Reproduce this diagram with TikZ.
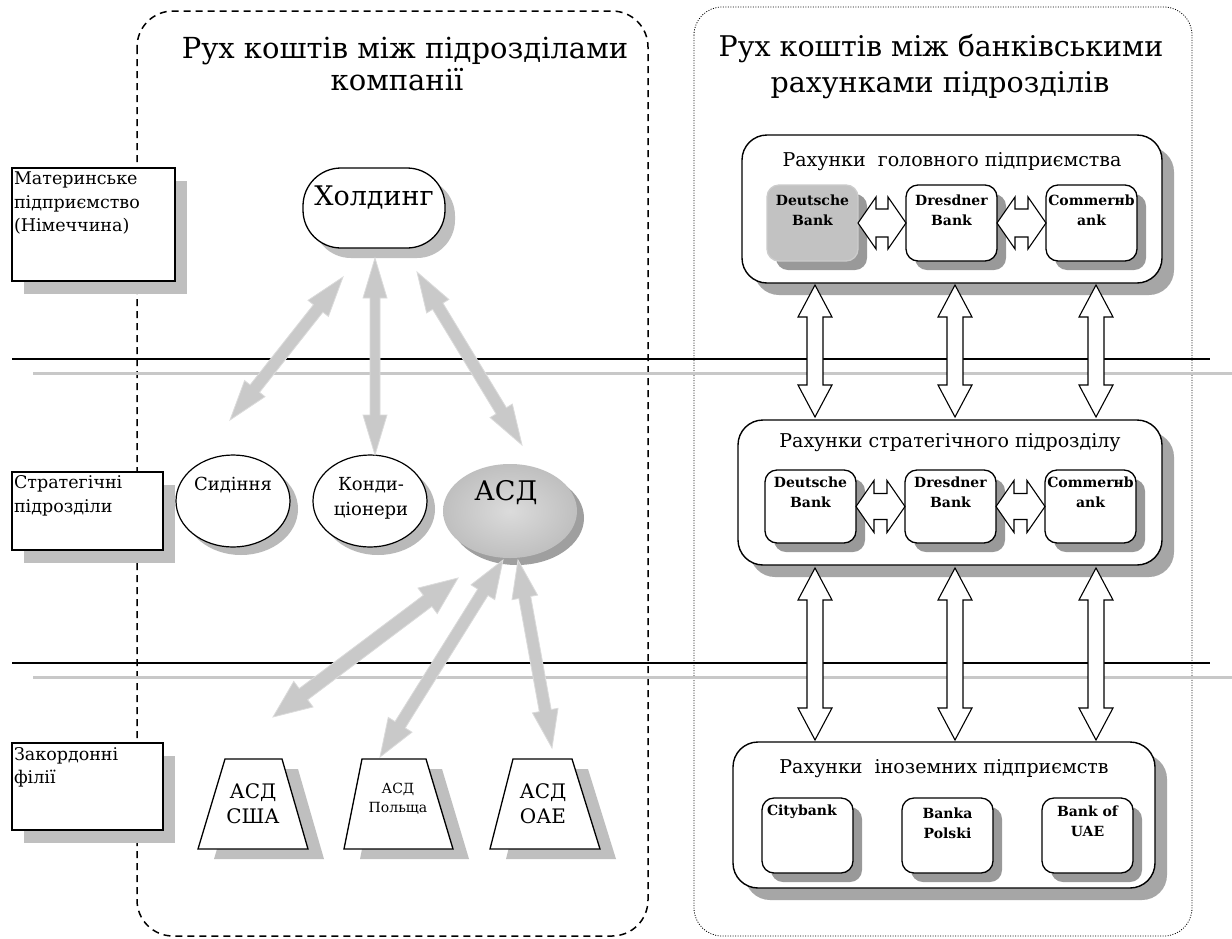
\documentclass[tikz,border=0pt]{standalone}
\usepackage{fontspec}
\setmainfont{DejaVu Serif}
\usetikzlibrary{arrows.meta,shapes.geometric,calc,shadows}
\newcommand\myfs[2]{\fontsize{#1}{#2}\selectfont}
% #1 style, #2 from, #3 to, #4 shaft half width, #5 head half width, #6 head length
\newcommand\fatarrow[6]{%
  \coordinate (fa1) at ($(#2)!#6!(#3)$);
  \coordinate (fa2) at ($(#3)!#6!(#2)$);
  \filldraw[#1] (#2) -- ($(fa1)!#5!90:(#3)$) -- ($(fa1)!#4!90:(#3)$)
     -- ($(fa2)!#4!-90:(#2)$) -- ($(fa2)!#5!-90:(#2)$) -- (#3)
     -- ($(fa2)!#5!90:(#2)$) -- ($(fa2)!#4!90:(#2)$)
     -- ($(fa1)!#4!-90:(#3)$) -- ($(fa1)!#5!-90:(#3)$) -- cycle;}
\begin{document}
\begin{tikzpicture}[x=1pt,y=-1pt,
  every node/.style={inner sep=0pt, outer sep=0pt},
  lbl/.style={draw, line width=1.3pt, fill=white, anchor=north west,
    drop shadow={shadow xshift=12pt, shadow yshift=-13pt, fill=gray!50, opacity=1}},
  lbltxt/.style={anchor=north west, align=left, font=\myfs{17.5}{23.5}},
  unit/.style={draw, ellipse, line width=1.2pt, fill=white, minimum width=114pt, minimum height=92pt,
    drop shadow={shadow xshift=8pt, shadow yshift=-8pt, fill=gray!55, opacity=1}},
  big/.style={draw, line width=1.4pt, rounded corners=25pt, fill=white, anchor=north west,
    drop shadow={shadow xshift=12pt, shadow yshift=-12pt, fill=gray!70, opacity=1}},
  bigtxt/.style={anchor=base, font=\myfs{19}{23}},
  bank/.style={draw, line width=1.3pt, rounded corners=12pt, fill=white, anchor=north west,
    minimum width=91pt, minimum height=76pt,
    drop shadow={shadow xshift=9pt, shadow yshift=-9pt, fill=gray!80, opacity=1}},
  banktxt/.style={anchor=north, align=center, font=\bfseries\myfs{14}{20}},
  garr/.style={fill=gray!42, draw=gray!28, line width=0.8pt, line join=miter},
  warr/.style={fill=white, draw=black, line width=1.1pt, line join=miter},
  trap/.style={draw, line width=1.3pt, fill=white, line join=miter},
  trapsh/.style={fill=gray!50},
  ttl/.style={anchor=base, font=\myfs{29}{34}},
  ttr/.style={anchor=base, font=\myfs{28.5}{34}},
  utxt/.style={anchor=base, font=\myfs{18}{24}}
]
\fill[white] (0,0) rectangle (1232,938);
\useasboundingbox (0,0) rectangle (1232,938);

% group frames
\draw[line width=1.5pt, dash pattern=on 7pt off 5pt, rounded corners=36pt] (137,11) rectangle (648,936);
\draw[line width=0.8pt, dash pattern=on 1pt off 1.5pt, rounded corners=28pt] (694,7) rectangle (1192,936);

% titles
\node[ttl] (t1a) at (405,58) {Рух коштів між підрозділами};
\node[ttl] (t1b) at (397,90) {компанії};
\node[ttr] (t2a) at (941,56) {Рух коштів між банківськими};
\node[ttr] (t2b) at (940,92) {рахунками підрозділів};

% level separators
\draw[line width=2pt] (12,359) -- (1210,359);
\draw[gray!43, line width=3pt] (33,373) -- (1232,373);
\draw[line width=2pt] (12,663) -- (1210,663);
\draw[gray!43, line width=3pt] (33,677) -- (1232,677);

% level labels
\node[lbl, minimum width=163pt, minimum height=113pt] (l1) at (12,168) {};
\node[lbltxt] (l1t) at (14,172) {Материнське\\підприємство\\(Німеччина)};
\node[lbl, minimum width=151pt, minimum height=78pt] (l2) at (12,472) {};
\node[lbltxt] (l2t) at (14,476) {Стратегічні\\підрозділи};
\node[lbl, minimum width=151pt, minimum height=87pt] (l3) at (12,743) {};
\node[lbltxt] (l3t) at (14,747) {Закордонні\\філії};

% holding
\node[draw, line width=1.3pt, fill=white, rounded corners=38pt, minimum width=142pt, minimum height=80pt,
  drop shadow={shadow xshift=10pt, shadow yshift=-10pt, fill=gray!50, opacity=1}] (hold) at (374,208) {};
\node[anchor=base, font=\myfs{27}{32}] (holdt) at (374,205) {Холдинг};

% strategic units
\node[unit] (sid) at (233,501) {};
\node[utxt] (sidt) at (233,490) {Сидіння};
\node[unit] (kon) at (370,501) {};
\node[utxt] (kont1) at (371,490) {Конди-};
\node[utxt] (kont2) at (371,515) {ціонери};
\node[ellipse, minimum width=134pt, minimum height=94pt, inner color=gray!28, outer color=gray!50, shade,
  drop shadow={shadow xshift=7pt, shadow yshift=-7pt, fill=gray!75, opacity=1}] (asd) at (510,511) {};
\node[anchor=base, font=\myfs{27}{32}] (asdt) at (506,500) {АСД};

% foreign branches (trapezoids)
\fill[trapsh, shift={(16,10)}] (225,759) -- (282,759) -- (308,849) -- (198,849) -- cycle;
\draw[trap] (225,759) -- (282,759) -- (308,849) -- (198,849) -- cycle;
\fill[trapsh, shift={(16,10)}] (362,759) -- (426,759) -- (453,849) -- (344,849) -- cycle;
\draw[trap] (362,759) -- (426,759) -- (453,849) -- (344,849) -- cycle;
\fill[trapsh, shift={(16,10)}] (513,759) -- (572,759) -- (600,849) -- (490,849) -- cycle;
\draw[trap] (513,759) -- (572,759) -- (600,849) -- (490,849) -- cycle;
\node[anchor=base, font=\myfs{20}{25}] (usa1) at (253,798) {АСД};
\node[anchor=base, font=\myfs{20}{25}] (usa2) at (253,823) {США};
\node[anchor=base, font=\myfs{14}{19}] (pol1) at (398,793) {АСД};
\node[anchor=base, font=\myfs{14}{19}] (pol2) at (398,812) {Польща};
\node[anchor=base, font=\myfs{20}{25}] (uae1) at (543,798) {АСД};
\node[anchor=base, font=\myfs{20}{25}] (uae2) at (543,823) {ОАЕ};

% grey flow arrows
\coordinate (h1a) at (343,277); \coordinate (h1b) at (230,420);
\coordinate (h2a) at (375,258); \coordinate (h2b) at (375,455);
\coordinate (h3a) at (417,272); \coordinate (h3b) at (522,445);
\fatarrow{garr}{h1a}{h1b}{6pt}{13pt}{40pt}
\fatarrow{garr}{h2a}{h2b}{5pt}{12pt}{40pt}
\fatarrow{garr}{h3a}{h3b}{6pt}{13pt}{40pt}
\coordinate (a1a) at (458,578); \coordinate (a1b) at (273,717);
\coordinate (a2a) at (503,560); \coordinate (a2b) at (380,757);
\coordinate (a3a) at (518,560); \coordinate (a3b) at (552,748);
\fatarrow{garr}{a1a}{a1b}{7pt}{16pt}{38pt}
\fatarrow{garr}{a2a}{a2b}{6pt}{14pt}{38pt}
\fatarrow{garr}{a3a}{a3b}{6pt}{13pt}{38pt}

% bank account groups
\node[big, minimum width=420pt, minimum height=148pt] (g1) at (742,135) {};
\node[bigtxt] (g1t) at (952,166) {Рахунки~ головного підприємства};
\node[bank, draw=gray!40, fill=gray!48, drop shadow={fill=none,draw=none}] (d1) at (767,185) {};
\node[bank] (r1) at (906,185) {};
\node[bank] (c1) at (1046,185) {};
\node[banktxt] (d1t) at ($(d1.north)+(0,10)$) {Deutsche\\Bank};
\node[banktxt] (r1t) at ($(r1.north)+(0,10)$) {Dresdner\\Bank};
\node[banktxt] (c1t) at ($(c1.north)+(0,10)$) {Commerнb\\ank};

\node[big, minimum width=424pt, minimum height=145pt] (g2) at (738,420) {};
\node[bigtxt] (g2t) at (950,447) {Рахунки стратегічного підрозділу};
\node[bank, minimum height=73pt] (d2) at (765,470) {};
\node[bank, minimum height=73pt] (r2) at (905,470) {};
\node[bank, minimum height=73pt] (c2) at (1045,470) {};
\node[banktxt] (d2t) at ($(d2.north)+(0,7)$) {Deutsche\\Bank};
\node[banktxt] (r2t) at ($(r2.north)+(0,7)$) {Dresdner\\Bank};
\node[banktxt] (c2t) at ($(c2.north)+(0,7)$) {Commerнb\\ank};

\node[big, minimum width=422pt, minimum height=146pt] (g3) at (733,742) {};
\node[bigtxt] (g3t) at (944,773) {Рахунки~ іноземних підприємств};
\node[bank, minimum height=75pt] (ci) at (762,798) {};
\node[bank, minimum height=75pt] (bp) at (902,798) {};
\node[bank, minimum height=75pt] (bu) at (1042,798) {};
\node[banktxt, anchor=north west] (cit) at ($(ci.north west)+(5,7)$) {Citybank};
\node[banktxt] (bpt) at ($(bp.north)+(0,10)$) {Banka\\Polski};
\node[banktxt] (but) at ($(bu.north)+(0,8)$) {Bank of\\UAE};

% white double arrows inside groups
\fatarrow{warr}{d1.east}{r1.west}{14pt}{26pt}{18pt}
\fatarrow{warr}{r1.east}{c1.west}{14pt}{26pt}{18pt}
\fatarrow{warr}{d2.east}{r2.west}{13pt}{26pt}{18pt}
\fatarrow{warr}{r2.east}{c2.west}{13pt}{26pt}{18pt}

% white double arrows between groups
\coordinate (v1a) at (815,285); \coordinate (v1b) at (815,417);
\coordinate (v2a) at (955,285); \coordinate (v2b) at (955,417);
\coordinate (v3a) at (1096,285); \coordinate (v3b) at (1096,417);
\coordinate (w1a) at (815,568); \coordinate (w1b) at (815,740);
\coordinate (w2a) at (955,568); \coordinate (w2b) at (955,740);
\coordinate (w3a) at (1096,568); \coordinate (w3b) at (1096,740);
\fatarrow{warr}{v1a}{v1b}{8pt}{17pt}{32pt}
\fatarrow{warr}{v2a}{v2b}{8pt}{17pt}{32pt}
\fatarrow{warr}{v3a}{v3b}{8pt}{17pt}{32pt}
\fatarrow{warr}{w1a}{w1b}{8pt}{17pt}{32pt}
\fatarrow{warr}{w2a}{w2b}{8pt}{17pt}{32pt}
\fatarrow{warr}{w3a}{w3b}{8pt}{17pt}{32pt}
\end{tikzpicture}
\end{document}
